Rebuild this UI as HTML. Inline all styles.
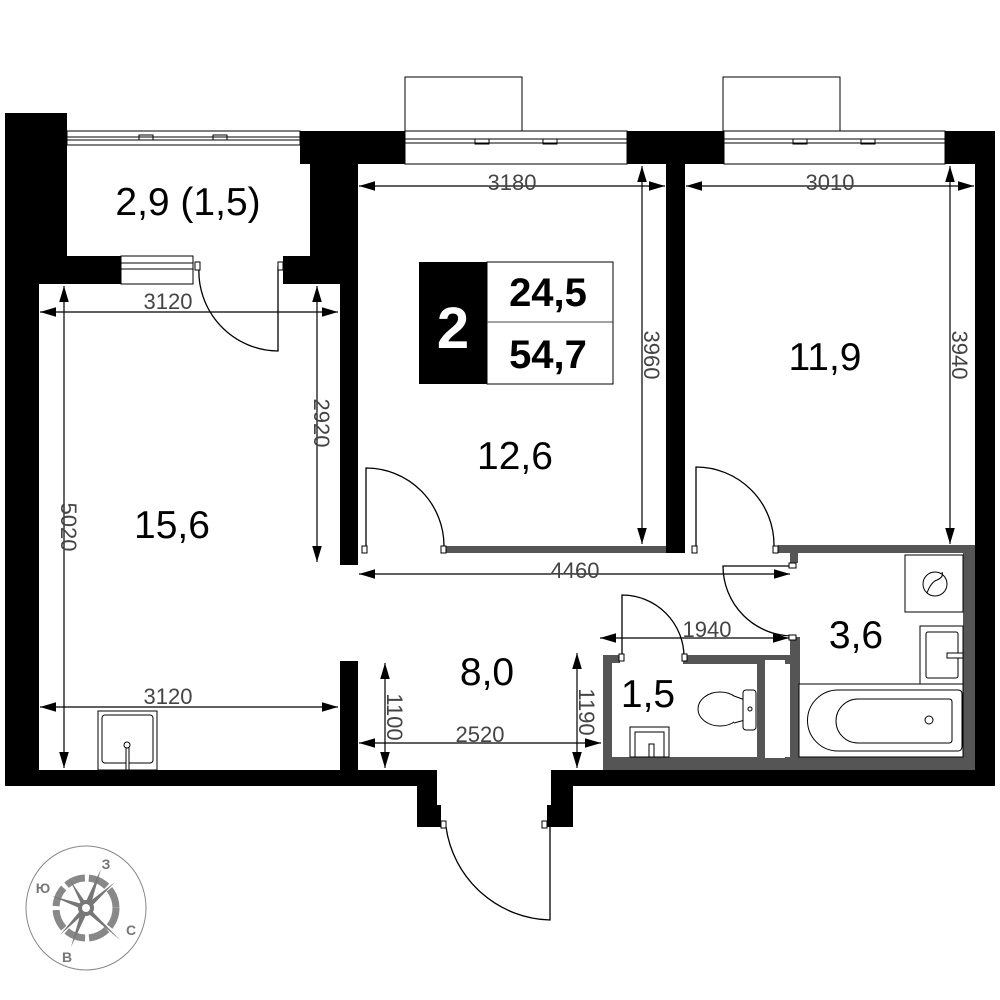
<!DOCTYPE html>
<html><head><meta charset="utf-8"><style>
html,body{margin:0;padding:0;background:#fff}
svg{display:block}
text{font-family:"Liberation Sans","DejaVu Sans",sans-serif}
</style></head><body>
<svg width="1000" height="1000" viewBox="0 0 1000 1000" xmlns="http://www.w3.org/2000/svg">
<defs>
<marker id="a" viewBox="0 0 10 6" refX="10" refY="3" markerWidth="16" markerHeight="10" markerUnits="userSpaceOnUse" orient="auto-start-reverse"><path d="M0,0L10,3L0,6z" fill="#000"/></marker>
</defs>
<g fill="none" stroke="#000" stroke-width="1">
<rect x="405" y="77" width="117" height="54"/>
<rect x="723" y="77" width="117" height="54"/>
</g>
<g fill="#000">
<rect x="5" y="113" width="62" height="171"/>
<rect x="67" y="256" width="54" height="28"/>
<rect x="283" y="256" width="27" height="28"/>
<rect x="310" y="162" width="48" height="122"/>
<rect x="300" y="131" width="105" height="33"/>
<rect x="5" y="284" width="34" height="500"/>
<rect x="340" y="284" width="18" height="281"/>
<rect x="627" y="131" width="97" height="33"/>
<rect x="945" y="131" width="50" height="33"/>
<rect x="666" y="164" width="19" height="389"/>
<rect x="975" y="164" width="20" height="606"/>
<rect x="5" y="770" width="432" height="16"/>
<rect x="417" y="770" width="20" height="57"/>
<rect x="437" y="805" width="4" height="22"/>
<rect x="551" y="770" width="444" height="16"/>
<rect x="551" y="770" width="22" height="57"/>
<rect x="547" y="805" width="4" height="22"/>
<rect x="340" y="661" width="18" height="109"/>
</g>
<g fill="#fff" stroke="#000" stroke-width="1">
<rect x="67" y="131" width="233" height="14"/>
<rect x="405" y="131" width="222" height="33"/>
<rect x="724" y="131" width="221" height="33"/>
<rect x="121" y="256" width="72" height="28"/>
</g>
<g stroke="#000" stroke-width="1" fill="none">
<line x1="67" y1="137" x2="300" y2="137"/><line x1="67" y1="140" x2="300" y2="140"/>
<line x1="405" y1="139" x2="627" y2="139"/><line x1="405" y1="143" x2="627" y2="143"/>
<line x1="724" y1="139" x2="945" y2="139"/><line x1="724" y1="143" x2="945" y2="143"/>
<line x1="121" y1="263" x2="193" y2="263"/><line x1="121" y1="269" x2="193" y2="269"/>
<rect x="139" y="135" width="14" height="5"/><rect x="213" y="135" width="14" height="5"/>
<rect x="475" y="139" width="14" height="5"/><rect x="543" y="139" width="14" height="5"/>
<rect x="793" y="139" width="14" height="5"/><rect x="861" y="139" width="14" height="5"/>
</g>
<g fill="#555">
<rect x="445" y="546" width="221" height="7"/>
<rect x="778" y="545" width="197" height="8"/>
<rect x="790" y="553" width="8" height="10"/>
<rect x="963" y="553" width="12" height="217"/>
<rect x="603" y="655" width="9" height="115"/>
<rect x="612" y="655" width="8" height="8"/>
<rect x="683" y="655" width="107" height="9"/>
<rect x="790" y="637" width="10" height="133"/>
<rect x="757" y="664" width="8" height="96"/>
<rect x="603" y="757" width="372" height="13"/>
</g>
<rect x="765" y="660" width="20" height="98" fill="#fff"/>
<g fill="none" stroke="#000" stroke-width="1.3">
<path d="M199,266 A80,80 0 0 0 278,351 L278,266"/>
<path d="M366,549 L366,468 A78,78 0 0 1 444,546"/>
<path d="M696,549 L696,467 A78,78 0 0 1 774,546"/>
<path d="M792,566 L723,566 A70,70 0 0 0 793,636"/>
<path d="M622,658 L622,595 A62,62 0 0 1 684,657"/>
<path d="M446,827 A108,108 0 0 0 550,920 L550,827"/>
</g>
<g fill="#fff" stroke="#000" stroke-width="1">
<rect x="362" y="546" width="5" height="7"/><rect x="441" y="546" width="5" height="7"/>
<rect x="692" y="546" width="5" height="7"/><rect x="773" y="546" width="5" height="7"/>
<rect x="789" y="563" width="7" height="5"/><rect x="789" y="635" width="7" height="5"/>
<rect x="619" y="654" width="5" height="7"/><rect x="682" y="654" width="5" height="7"/>
<rect x="195" y="262" width="5" height="8"/><rect x="278" y="262" width="5" height="8"/>
<rect x="441" y="821" width="5" height="7"/><rect x="542" y="821" width="5" height="7"/>
</g>
<g fill="#fff" stroke="#000" stroke-width="1">
<rect x="98" y="711" width="59" height="59"/><rect x="102" y="715" width="51" height="48" rx="3"/>
<rect x="126" y="746" width="3" height="24"/><circle cx="127" cy="745" r="3"/>
<rect x="905" y="555" width="58" height="57"/><circle cx="935" cy="584" r="12"/>
<path d="M927,593 Q931,582 937,580 Q944,577 942,572" fill="none"/>
<rect x="920" y="626" width="43" height="58"/><rect x="926" y="632" width="32" height="46" rx="2"/>
<rect x="947" y="653" width="16" height="5"/>
<rect x="799" y="684" width="164" height="73"/>
<path d="M838,690 L958,690 Q962,690 962,694 L962,746 Q962,751 958,751 L838,751 A30.5,30.5 0 0 1 838,690 Z"/>
<path d="M858,699 L949,699 Q952,699 952,702 L952,740 Q952,743 949,743 L858,743 A22,22 0 0 1 858,699 Z"/>
<circle cx="929" cy="720" r="4"/>
<rect x="630" y="727" width="39" height="30"/><rect x="635" y="732" width="29" height="25"/>
<rect x="649" y="744" width="5" height="13"/>
<ellipse cx="720" cy="709" rx="22" ry="17"/>
<path d="M734,696 L745,700 L745,720 L734,723"/>
<rect x="743" y="690" width="13" height="40" rx="3"/><circle cx="750" cy="709" r="2"/>
</g>
<g stroke="#000" stroke-width="1.2" marker-start="url(#a)" marker-end="url(#a)">
<line x1="40" y1="312" x2="338" y2="312"/>
<line x1="64" y1="286" x2="64" y2="768"/>
<line x1="317" y1="286" x2="317" y2="562"/>
<line x1="359" y1="186" x2="665" y2="186"/>
<line x1="642" y1="166" x2="642" y2="544"/>
<line x1="686" y1="186" x2="974" y2="186"/>
<line x1="950" y1="166" x2="950" y2="544"/>
<line x1="359" y1="574" x2="790" y2="574"/>
<line x1="600" y1="638" x2="789" y2="638"/>
<line x1="40" y1="707" x2="338" y2="707"/>
<line x1="359" y1="743" x2="601" y2="743"/>
<line x1="385" y1="663" x2="385" y2="768"/>
<line x1="577" y1="653" x2="577" y2="768"/>
</g>
<g fill="#444" font-size="22">
<text x="168" y="309" text-anchor="middle">3120</text>
<text x="512" y="190" text-anchor="middle">3180</text>
<text x="830" y="190" text-anchor="middle">3010</text>
<text x="575" y="578" text-anchor="middle">4460</text>
<text x="707" y="637" text-anchor="middle">1940</text>
<text x="168" y="704" text-anchor="middle">3120</text>
<text x="480" y="742" text-anchor="middle">2520</text>
<text transform="translate(61,527) rotate(90)" text-anchor="middle">5020</text>
<text transform="translate(314,423) rotate(90)" text-anchor="middle">2920</text>
<text transform="translate(644,355) rotate(90)" text-anchor="middle">3960</text>
<text transform="translate(952,355) rotate(90)" text-anchor="middle">3940</text>
<text transform="translate(387,717) rotate(90)" text-anchor="middle">1100</text>
<text transform="translate(579,712) rotate(90)" text-anchor="middle">1190</text>
</g>
<g fill="#000" font-size="39" text-anchor="middle">
<text x="188" y="215">2,9 (1,5)</text>
<text x="172" y="538">15,6</text>
<text x="515" y="469">12,6</text>
<text x="825" y="370">11,9</text>
<text x="487" y="685">8,0</text>
<text x="856" y="648">3,6</text>
<text x="648" y="707">1,5</text>
</g>
<rect x="419" y="262" width="68" height="122" fill="#000"/>
<rect x="487" y="262" width="126" height="122" fill="#fff" stroke="#000" stroke-width="1"/>
<line x1="487" y1="322" x2="613" y2="322" stroke="#444" stroke-width="1"/>
<text x="453" y="348" fill="#fff" font-size="58" font-weight="bold" text-anchor="middle">2</text>
<text x="548" y="306" font-size="40" font-weight="bold" text-anchor="middle">24,5</text>
<text x="548" y="368" font-size="40" font-weight="bold" text-anchor="middle">54,7</text>
<g fill="#777" stroke="none">
<ellipse cx="86" cy="908" rx="60" ry="62" fill="none" stroke="#888" stroke-width="1"/>
<circle cx="86" cy="908" r="30" fill="none" stroke="#888" stroke-width="7" stroke-dasharray="20 4"/>
<polygon points="101,869 91,904 81,912" />
<polygon points="71,947 81,912 91,904"/>
<polygon points="52,896 86,905 86,911"/>
<polygon points="120,940 86,911 86,905"/>
<polygon points="70,880 88,906 84,910"/>
<polygon points="108,930 84,910 88,906"/>
<polygon points="60,935 84,906 88,910"/>
<polygon points="115,882 88,910 84,906"/>
<circle cx="86" cy="908" r="8" fill="#777"/>
<circle cx="86" cy="908" r="4" fill="#fff"/>
<text x="106" y="869" font-size="14" font-weight="bold" text-anchor="middle">З</text>
<text x="43" y="893" font-size="14" font-weight="bold" text-anchor="middle">Ю</text>
<text x="131" y="935" font-size="14" font-weight="bold" text-anchor="middle">С</text>
<text x="67" y="962" font-size="14" font-weight="bold" text-anchor="middle">В</text>
</g>
</svg>
</body></html>
